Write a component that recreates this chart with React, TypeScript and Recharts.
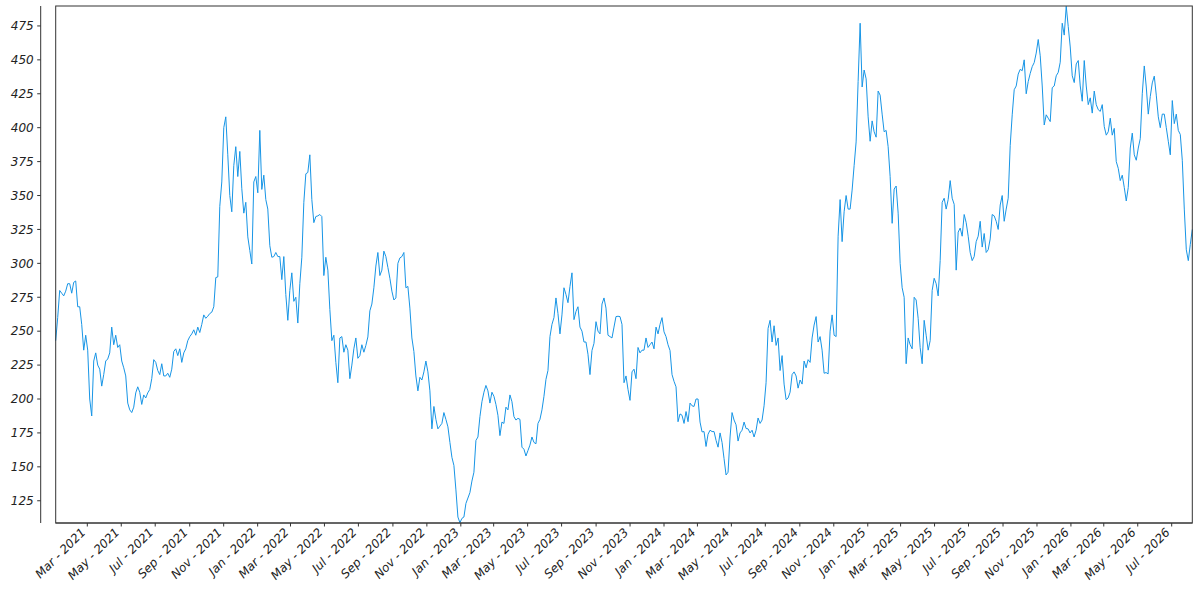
import React from 'react';
import { LineChart, Line, XAxis, YAxis } from 'recharts';

// one reading every ~3.6 days, Jan 2021 -> Aug 2026
const START = Date.UTC(2021, 0, 3, 5, 30);
const STEP_DAYS = 3.5947;

const prices: number[] = [
    243, 260, 280, 278, 276, 279.5, 285, 285, 278, 286,
    287, 268, 268, 255, 236, 247, 236, 200, 187.5, 228,
    234, 225, 222, 209.5, 218, 228, 229.5, 234, 253, 240,
    247, 238, 240, 228, 223, 217, 197, 192, 190, 194,
    204.5, 209, 205, 196, 203, 200.75, 204.5, 207, 215, 229,
    227, 221, 218, 226, 217, 217, 219, 216, 222, 235,
    237, 232, 237, 227, 234, 237, 243, 246, 248, 251,
    247, 253, 249,
    255, 262, 259.5, 261, 263, 264, 268, 289.5, 290, 342,
    360, 400, 408, 380, 350, 338, 372, 386, 364, 382.5,
    355, 337, 345, 319.5, 309.5, 299.5, 360, 364, 352, 398,
    354.5, 365, 347, 340, 313, 304.5, 305, 308, 305, 305,
    288, 305, 277, 258, 280, 293, 272, 275, 256, 285,
    304.5, 345, 366, 367, 380, 347, 330, 334.5, 335, 336,
    334.5, 291, 304.5, 295, 266, 243, 247, 227, 212, 245,
    246, 234.5, 240, 236, 215, 225, 237, 245, 230, 232,
    240, 234.5, 239.5, 245.75, 265, 270, 282, 298, 308, 291,
    295, 309, 305, 297, 289, 279.5, 273, 274.5, 300, 304,
    305, 308, 282, 283, 267, 245, 235, 217, 206, 216,
    214, 220, 228, 220, 206, 178, 194.5, 185, 178, 180,
    182, 190, 185, 179.5, 168, 157, 151, 133, 113, 108.8,
    112, 113, 123, 127, 131, 139.5, 146, 169.5, 172, 187,
    198, 205, 210, 206, 197, 205, 202, 196, 188, 173,
    183, 182, 194, 192, 203, 198, 187, 184.5, 185.75, 185,
    164.5, 163, 158, 162, 166, 172, 168, 167, 182, 185,
    192, 202, 214.5, 221, 246, 255, 260, 274.5, 263, 248,
    262, 282, 277, 271, 283, 293, 258.5, 264.5, 268, 253,
    250, 242, 242, 233, 218, 235.75, 241, 257, 250, 248,
    270, 274.5, 267, 247, 246, 245, 253, 260.75, 261, 260.75,
    255, 212, 217, 207, 199, 220, 222, 215, 238, 234,
    236, 236, 245, 238, 240, 242, 237, 253, 248, 255,
    260, 249.5, 246, 240, 235.75, 218, 213, 209, 183.25, 189,
    188, 182, 190.75, 183.25, 197, 195, 194.5, 200, 200, 183,
    175.75, 176, 165, 174, 177, 176, 176, 169.5, 164.5, 175,
    168, 156, 144, 146, 172, 190, 184.5, 181, 169, 175,
    177, 183, 178.25, 178, 175, 177, 172, 177, 186, 182,
    184.5, 195, 212, 252, 258, 242, 254, 239.5, 245, 221,
    232, 211, 199.5, 200.75, 205, 218, 220, 217, 208, 214,
    211, 228, 223, 229, 227, 245, 254.5, 260.75, 242, 246,
    236, 219, 219.5, 218.5, 250, 262, 247, 246, 320, 347,
    316, 338, 350, 340, 340, 354, 372, 389.5, 434, 477,
    430, 442.5, 436, 408, 390, 405, 397, 393, 427, 424,
    410, 397, 398, 386, 364, 329.5, 354.75, 357, 337, 300,
    282, 275, 226, 245, 240, 237, 275, 273, 259.5, 238,
    226, 258, 247, 236, 243, 280, 289, 285, 276, 302,
    345, 348, 340, 347, 361, 348, 343.5, 295, 323, 326,
    320, 336, 330, 320, 308, 302, 305, 316, 320, 331,
    312, 322, 308, 310, 318, 336, 335, 331, 325, 343,
    350, 331, 340, 348, 387, 409.5, 428, 430.75, 439.5, 443,
    442, 450, 425, 434, 440, 445, 448, 455, 465, 453,
    430.75, 402, 409.5, 407, 404.5, 429.5, 430.75, 438.25, 440.75, 448.25,
    477, 468.25, 489.5, 474.5, 459.5, 438.25, 433.25, 447, 449.5, 430.75,
    419.5, 449.5, 430.75, 417, 422, 410.75, 427, 417, 413.25, 412,
    417, 400.75, 394.5, 397, 407, 394.5, 399.5, 375, 370, 361,
    365, 356, 346, 356, 385, 396, 380, 376, 385, 392,
    425, 445.5, 430, 410, 423, 433, 438, 424, 408, 400,
    410, 410, 400, 390, 380, 420, 403, 410, 398, 395,
    376, 340, 310, 302, 314, 325,
];

const tickDates = [
    '2021-03-01', '2021-05-01', '2021-07-01', '2021-09-01', '2021-11-01',
    '2022-01-01', '2022-03-01', '2022-05-01', '2022-07-01', '2022-09-01', '2022-11-01',
    '2023-01-01', '2023-03-01', '2023-05-01', '2023-07-01', '2023-09-01', '2023-11-01',
    '2024-01-01', '2024-03-01', '2024-05-01', '2024-07-01', '2024-09-01', '2024-11-01',
    '2025-01-01', '2025-03-01', '2025-05-01', '2025-07-01', '2025-09-01', '2025-11-01',
    '2026-01-01', '2026-03-01', '2026-05-01', '2026-07-01',
];

const yTicks = [125, 150, 175, 200, 225, 250, 275, 300, 325, 350, 375, 400, 425, 450, 475];

const MONTHS = ['Jan', 'Feb', 'Mar', 'Apr', 'May', 'Jun', 'Jul', 'Aug', 'Sep', 'Oct', 'Nov', 'Dec'];

const data = prices.map((v, i) => ({ t: START + i * STEP_DAYS * 86400000, v }));
const xTicks = tickDates.map((d) => Date.parse(d));

const AXIS_COLOR = '#333';
const TEXT_COLOR = '#222';
const FONT = '"DejaVu Sans", sans-serif';
// plot box and the detached y spine (page pixels)
const Y_SPINE_X = 40.7;
const PLOT_LEFT = 55.7;
const PLOT_RIGHT = 1192.3;
const PLOT_TOP = 6;
const PLOT_BOTTOM = 523;

const XTick: React.FC<any> = ({ x, payload }) => {
    const d = new Date(payload.value);
    const label = `${MONTHS[d.getUTCMonth()]} - ${d.getUTCFullYear()}`;
    const bx = x - 1;
    const by = 533;
    return (
        <text
            x={bx}
            y={by}
            textAnchor="end"
            transform={`rotate(-45 ${bx} ${by})`}
            fontFamily={FONT}
            fontStyle="italic"
            fontSize={12}
            fill={TEXT_COLOR}
        >
            {label}
        </text>
    );
};

const YTick: React.FC<any> = ({ y, payload }) => (
    <g>
        <line x1={Y_SPINE_X - 3.5} x2={Y_SPINE_X} y1={y} y2={y} stroke={AXIS_COLOR} strokeWidth={1} />
        <text
            x={Y_SPINE_X - 7}
            y={y}
            dy={4.3}
            textAnchor="end"
            fontFamily={FONT}
            fontStyle="italic"
            fontSize={12}
            fill={TEXT_COLOR}
        >
            {payload.value}
        </text>
    </g>
);

const App: React.FC = () => {
    return (
        <div style={{ position: 'absolute', left: 0, top: 0, width: 1200, height: 600, background: '#fff' }}>
            <LineChart
                width={1200}
                height={600}
                data={data}
                margin={{ top: PLOT_TOP, right: 1200 - PLOT_RIGHT, bottom: 0, left: 0 }}
            >
                <XAxis
                    dataKey="t"
                    type="number"
                    domain={['dataMin', 'dataMax']}
                    ticks={xTicks}
                    interval={0}
                    tick={<XTick />}
                    tickSize={3.5}
                    tickLine={{ stroke: AXIS_COLOR }}
                    axisLine={{ stroke: AXIS_COLOR }}
                    height={600 - PLOT_BOTTOM}
                />
                <YAxis
                    type="number"
                    domain={[108.6, 489.7]}
                    ticks={yTicks}
                    interval={0}
                    allowDataOverflow
                    width={PLOT_LEFT}
                    tick={<YTick />}
                    tickLine={false}
                    axisLine={false}
                />
                <Line
                    type="linear"
                    dataKey="v"
                    stroke="#1795e6"
                    strokeWidth={1}
                    dot={false}
                    activeDot={false}
                    isAnimationActive={false}
                />
            </LineChart>
            <svg
                width={1200}
                height={600}
                style={{ position: 'absolute', left: 0, top: 0, pointerEvents: 'none' }}
            >
                <line x1={Y_SPINE_X} x2={Y_SPINE_X} y1={PLOT_TOP} y2={PLOT_BOTTOM} stroke={AXIS_COLOR} strokeWidth={1} />
                <rect
                    x={PLOT_LEFT}
                    y={PLOT_TOP}
                    width={PLOT_RIGHT - PLOT_LEFT}
                    height={PLOT_BOTTOM - PLOT_TOP}
                    fill="none"
                    stroke={AXIS_COLOR}
                    strokeWidth={1}
                />
            </svg>
        </div>
    );
};

export default App;
